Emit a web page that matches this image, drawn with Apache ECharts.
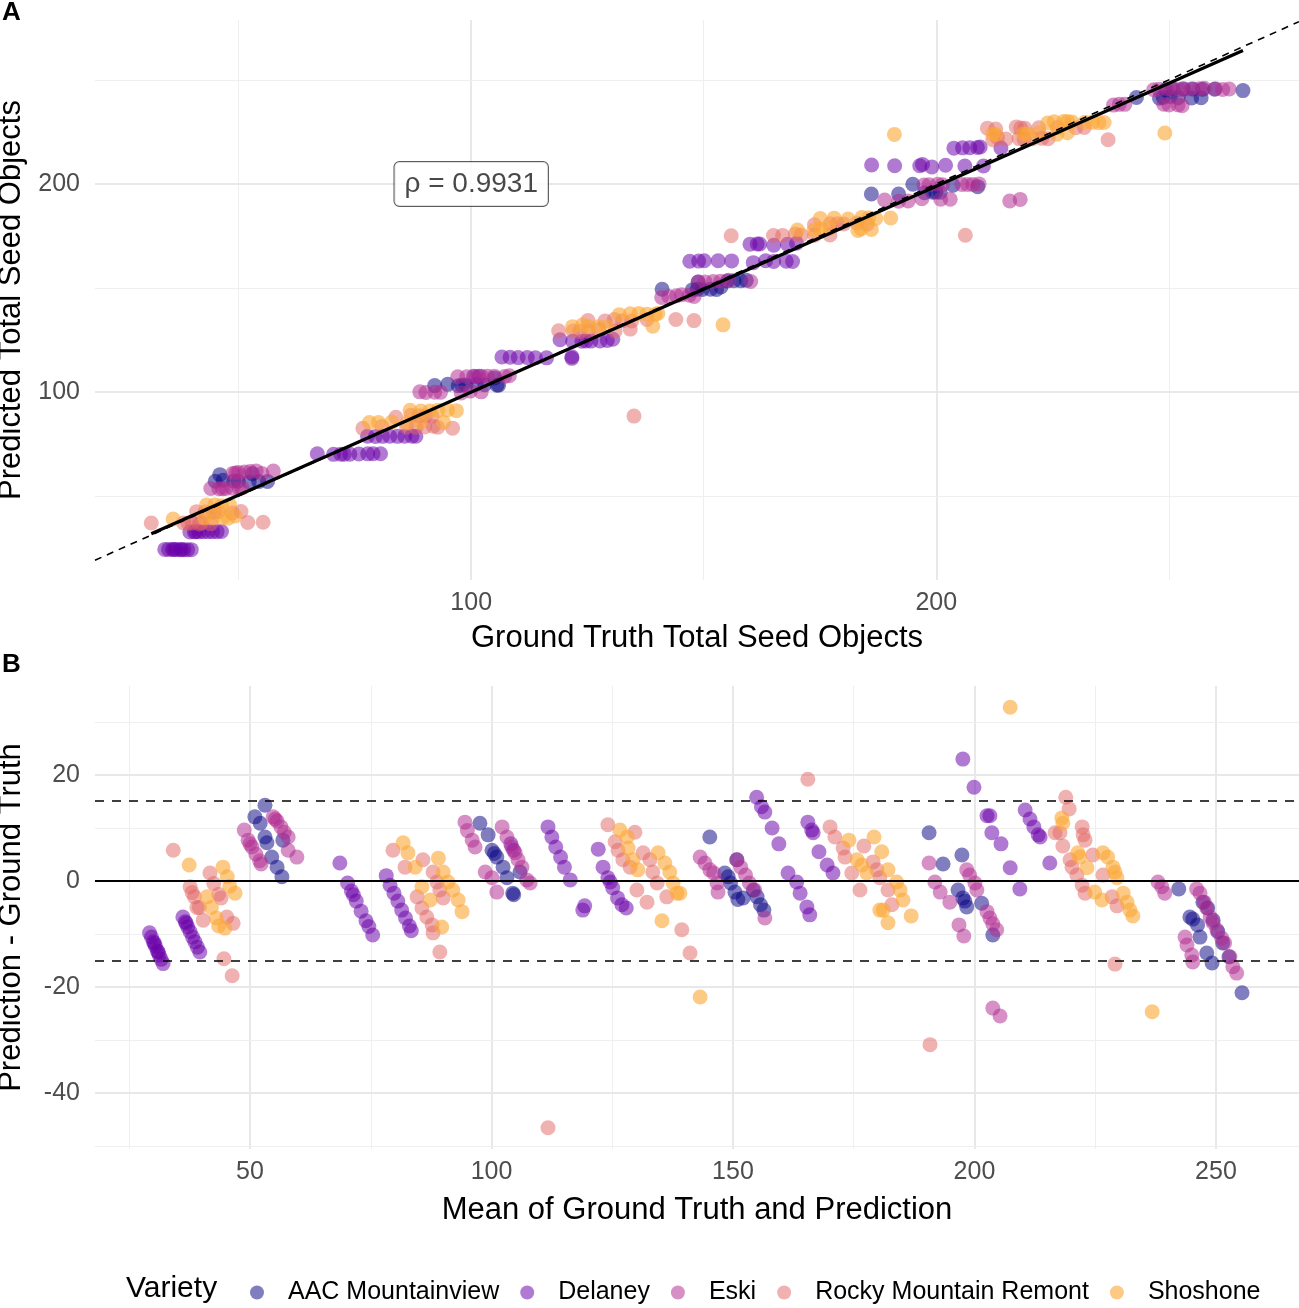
<!DOCTYPE html>
<html>
<head>
<meta charset="utf-8">
<script src="https://cdn.jsdelivr.net/npm/echarts@6/dist/echarts.min.js"></script>
<style>
html,body{margin:0;padding:0;background:#ffffff;}
#chart{width:1299px;height:1308px;}
</style>
</head>
<body>
<div id="chart"></div>
<script>
// ---------------- DATA ----------------
const varieties = ['AAC Mountainview', 'Delaney', 'Eski', 'Rocky Mountain Remont', 'Shoshone'];

// Readings from panel B: [mean of ground truth & prediction, prediction - ground truth]
const aacMountainview = [
  [51.0,12.1],[52.1,10.9],[53.1,14.3],[53.1,8.3],[53.5,7.2],[54.5,4.5],[55.6,2.6],[56.6,0.8],[56.8,7.7],
  [97.6,10.9],[99.3,8.7],[100.1,5.8],[100.6,5.2],[101.1,4.5],[102.4,2.6],[103.2,0.6],[104.4,-2.3],[104.6,-2.6],[105.9,1.7],
  [145.2,8.3],[148.3,1.5],[149.0,0.8],[149.5,-0.4],[150.4,-2.1],[151.0,-3.5],[152.1,-3.2],[150.8,4.0],[154.2,-1.7],[155.0,-3.0],[155.7,-4.5],[156.4,-5.5],
  [190.6,9.1],[193.5,3.2],[197.4,4.9],[196.6,-1.7],[197.6,-3.2],[198.0,-3.8],[198.4,-4.9],[201.5,-4.2],[203.8,-10.2],
  [242.3,-1.5],[244.6,-6.8],[245.2,-7.2],[246.2,-8.3],[246.7,-10.6],[247.3,-4.0],[248.1,-13.6],[248.3,-5.1],[249.2,-15.5],[249.4,-7.4],[250.4,-9.6],[251.4,-11.7],[252.7,-14.3],[255.4,-21.1]
];
const delaney = [
  [29.2,-9.8],[29.6,-10.6],[30.0,-11.5],[30.2,-11.8],[30.4,-12.3],[30.8,-13.2],[31.0,-13.4],[31.2,-14.0],[31.6,-14.8],[32.0,-15.6],
  [36.1,-6.8],[36.6,-7.7],[36.8,-8.0],[37.1,-8.7],[37.6,-9.6],[38.1,-10.6],[38.6,-11.5],[39.1,-12.5],[39.6,-13.4],
  [68.6,3.4],[70.2,-0.4],[71.0,-1.9],[71.4,-2.6],[72.0,-3.8],[73.0,-5.7],[74.0,-7.5],[74.6,-8.6],[75.4,-10.2],
  [78.2,1.0],[79.0,-0.8],[79.8,-2.3],[80.6,-3.8],[81.4,-5.5],[82.2,-7.0],[83.0,-8.5],[83.4,-9.4],
  [104.0,7.0],[104.6,5.8],
  [111.7,10.2],[112.5,8.3],[113.3,6.4],[114.3,4.5],[115.1,2.6],[116.3,0.2],[118.9,-5.5],[119.3,-4.7],
  [122.1,6.0],[123.1,2.6],[124.1,0.6],[124.6,-0.2],[125.1,-1.3],[126.1,-3.2],[127.0,-4.5],[127.9,-5.1],
  [154.9,15.8],[155.9,14.0],[156.6,13.0],[158.1,10.0],[159.5,7.0],
  [161.4,1.5],[163.2,-0.2],[163.9,-2.3],[165.3,-4.9],[165.9,-6.4],
  [165.5,11.1],[166.3,9.6],[166.6,9.1],[167.8,5.5],[169.5,3.0],[170.7,1.5],
  [197.6,23.0],[199.9,17.7],[202.6,12.3],[203.2,12.3],[203.6,9.1],[205.5,7.0],[207.4,2.5],[209.4,-1.5],
  [210.5,13.4],[211.5,11.7],[212.3,10.2],[213.2,8.7],[213.6,8.3],[215.6,3.4]
];
const eski = [
  [48.8,9.6],[49.6,7.7],[50.0,7.0],[50.4,6.4],[51.2,5.1],[52.0,3.8],[52.3,3.2],[54.8,12.1],[55.2,11.7],[55.6,11.3],[56.4,10.2],[57.1,9.2],[57.9,8.3],[57.9,5.8],[59.7,4.5],
  [94.5,11.1],[95.0,9.5],[96.0,7.7],[96.6,6.4],[98.7,1.7],[100.1,0.6],[101.1,-2.1],[102.2,10.2],[103.2,8.3],[104.2,6.4],[104.9,5.3],[105.5,4.0],[106.3,2.6],[107.3,0.2],[108.0,-0.4],
  [143.2,4.5],[144.2,3.4],[145.2,2.1],[146.0,1.5],[146.7,-0.4],[146.9,-2.1],
  [150.8,4.0],[151.6,2.6],[152.6,1.1],[153.4,-0.4],[154.5,-1.7],[156.6,-7.0],
  [190.6,3.4],[191.8,-0.2],[192.9,-2.1],[194.9,-4.0],[196.8,-8.3],[197.8,-10.4],[198.4,2.1],[199.0,1.1],[200.1,-0.4],[200.5,-1.7],
  [202.6,-5.8],[203.2,-7.0],[203.8,-8.1],[204.6,-9.2],[203.8,-24.0],[205.3,-25.5],
  [238.0,-0.2],[238.8,-1.1],[239.4,-2.3],[243.6,-10.6],[244.0,-12.1],[245.0,-14.0],[245.2,-15.3],
  [246.0,-1.5],[246.7,-2.3],[247.6,-4.0],[248.1,-5.1],[248.8,-6.8],[249.4,-7.9],[250.2,-9.2],[251.2,-10.8],[251.8,-11.7],[252.9,-14.3],[253.5,-16.2],[254.3,-17.4]
];
const rockyMountainRemont = [
  [34.1,5.8],[37.6,-1.1],[38.0,-2.2],[38.5,-3.0],[39.0,-5.0],[39.5,-5.0],[40.3,-7.4],[41.7,1.5],[42.5,-0.5],[43.5,-2.5],[44.0,-3.2],[45.2,-6.8],[46.5,-8.0],[44.6,-14.7],[46.3,-17.9],
  [79.6,5.8],[82.1,2.6],[85.8,4.0],[87.9,1.7],[88.7,-0.2],[89.3,-1.7],[90.0,-3.2],[84.6,-3.0],[85.6,-5.1],[86.6,-6.8],[87.7,-8.3],[87.9,-9.8],[89.3,-13.4],
  [111.7,-46.6],
  [124.1,10.6],[129.7,9.2],[125.6,7.4],[126.2,5.8],[127.2,4.0],[128.7,2.6],[131.4,5.3],[132.8,4.0],[133.4,1.7],[134.3,-0.4],[130.1,-1.7],[132.2,-4.0],[136.3,-3.0],[139.4,-9.2],[141.1,-13.6],
  [165.5,19.2],[170.1,10.2],[171.1,8.3],[172.8,6.2],[173.2,4.5],[174.6,1.5],[176.3,-1.7],[177.1,6.6],[179.0,3.6],[179.8,2.1],[180.4,0.6],[182.1,-1.7],[182.9,-4.5],
  [190.8,-30.9],
  [218.9,15.8],[219.6,13.6],[216.7,9.1],[217.7,9.1],[218.3,6.6],[222.3,10.2],[222.5,8.7],[222.9,7.7],[219.8,4.0],[220.2,2.6],[221.2,1.1],[222.3,-0.8],[222.9,-2.3],[224.5,4.9],[226.6,1.1],[228.5,-3.0],[229.5,-4.7],[229.1,-15.7]
];
const shoshone = [
  [37.4,3.0],[41.1,-3.0],[42.0,-5.0],[43.0,-7.0],[43.5,-8.5],[44.4,2.6],[44.8,-8.9],[45.3,0.8],[45.8,-1.0],[46.9,-2.3],
  [81.7,7.2],[82.7,5.3],[84.2,2.6],[85.6,-1.1],[87.3,-3.6],[89.0,4.3],[89.7,-8.7],[90.0,1.7],[91.0,-0.2],[92.0,-1.7],[93.1,-3.6],[93.9,-5.8],
  [126.6,9.6],[128.1,8.3],[128.3,6.2],[129.3,4.0],[130.3,2.1],[134.5,5.3],[135.9,3.4],[136.9,1.7],[137.6,-0.4],[138.4,-2.3],[139.0,-2.3],[135.3,-7.5],[143.2,-21.9],
  [174.0,7.7],[175.7,4.0],[176.7,3.0],[177.7,1.5],[179.2,8.3],[180.8,5.5],[182.1,2.1],[183.9,-0.2],[184.6,-1.7],[185.2,-3.6],[180.4,-5.5],[181.1,-5.5],[182.1,-7.9],[186.9,-6.6],
  [207.4,32.8],
  [218.1,11.9],[218.3,10.9],[221.4,5.3],[221.8,4.5],[223.3,2.5],[226.6,5.3],[227.6,4.5],[228.7,2.6],[229.1,1.7],[229.5,0.6],[224.9,-2.1],[226.4,-3.6],[230.8,-2.3],[231.6,-4.0],[232.2,-5.5],[232.8,-6.6],
  [236.8,-24.7]
];

const blandAltmanSets = [aacMountainview, delaney, eski, rockyMountainRemont, shoshone];

// Tick values
const aXLabels = [100, 200];
const aXMinor = [50, 150, 250];
const aYLabels = [100, 200];
const aYMinor = [50, 150, 250];
const bXLabels = [50, 100, 150, 200, 250];
const bXMinor = [25, 75, 125, 175, 225];
const bYLabels = [-40, -20, 0, 20];
const bYMinor = [-50, -30, -10, 10, 30];

// Reference lines of panel B
const meanBias = 0;
const limitsOfAgreement = [15.2, -15.1];

// Annotation
const rhoText = 'ρ = 0.9931';
const rhoAt = [100, 200];

// ---------------- STYLE / LAYOUT ----------------
const colors = [
  'rgba(13,8,135,0.65)',
  'rgba(106,0,168,0.65)',
  'rgba(177,42,144,0.65)',
  'rgba(225,100,98,0.62)',
  'rgba(252,166,54,0.75)'
];
const FONT = "'Liberation Sans', Arial, Helvetica, sans-serif";
const aXRange = [19.1, 278.0];
const aYRange = [9.6, 278.8];
const bXRange = [17.9, 267.2];
const bYRange = [-50.6, 36.8];

// Panel A coordinates derived from the same observations
const panelASets = blandAltmanSets.map(s => s.map(([m, d]) => [m - d / 2, m + d / 2]));

// linear fit (geom_smooth lm)
const allA = [].concat(...panelASets);
let sx = 0, sy = 0, sxx = 0, sxy = 0;
allA.forEach(([x, y]) => { sx += x; sy += y; sxx += x * x; sxy += x * y; });
const n = allA.length;
const slope = (n * sxy - sx * sy) / (n * sxx - sx * sx);
const intercept = (sy - slope * sx) / n;
const gtMin = Math.min(...allA.map(p => p[0]));
const gtMax = Math.max(...allA.map(p => p[0]));

function gridLines(major, minor, axis) {
  const d = [];
  minor.forEach(v => d.push({ [axis]: v, lineStyle: { color: '#EFEFEF', width: 1.1, type: 'solid' } }));
  major.forEach(v => d.push({ [axis]: v, lineStyle: { color: '#E8E8E8', width: 2, type: 'solid' } }));
  return d;
}

const series = [];
// gridlines
series.push({
  type: 'line', xAxisIndex: 0, yAxisIndex: 0, data: [], silent: true,
  markLine: { z: 1, silent: true, symbol: 'none', animation: false, label: { show: false },
    data: gridLines(aXLabels, aXMinor, 'xAxis').concat(gridLines(aYLabels, aYMinor, 'yAxis')) }
});
series.push({
  type: 'line', xAxisIndex: 1, yAxisIndex: 1, data: [], silent: true,
  markLine: { z: 1, silent: true, symbol: 'none', animation: false, label: { show: false },
    data: gridLines(bXLabels, bXMinor, 'xAxis').concat(gridLines(bYLabels, bYMinor, 'yAxis')) }
});

varieties.forEach((name, i) => {
  series.push({
    name, type: 'scatter', xAxisIndex: 0, yAxisIndex: 0, z: 2,
    symbolSize: 15, data: panelASets[i], itemStyle: { color: colors[i], borderWidth: 0 }
  });
  series.push({
    name, type: 'scatter', xAxisIndex: 1, yAxisIndex: 1, z: 2,
    symbolSize: 15, data: blandAltmanSets[i], itemStyle: { color: colors[i], borderWidth: 0 }
  });
});

// identity line
series.push({
  type: 'line', xAxisIndex: 0, yAxisIndex: 0, z: 4, silent: true, symbol: 'none',
  data: [[aXRange[0], aXRange[0]], [aXRange[1], aXRange[1]]],
  lineStyle: { color: '#000', width: 1.6, type: [7, 6] }
});
// regression line
series.push({
  type: 'line', xAxisIndex: 0, yAxisIndex: 0, z: 5, silent: true, symbol: 'none',
  data: [[gtMin, intercept + slope * gtMin], [gtMax, intercept + slope * gtMax]],
  lineStyle: { color: '#000', width: 3.2 }
});
// rho annotation
series.push({
  type: 'scatter', xAxisIndex: 0, yAxisIndex: 0, z: 6, silent: true, symbolSize: 0,
  data: [rhoAt],
  label: {
    show: true, position: 'inside', formatter: rhoText,
    fontFamily: FONT, fontSize: 28, color: '#1a1a1a',
    backgroundColor: '#fff', borderColor: '#333', borderWidth: 1, borderRadius: 5,
    padding: [8, 10, 8, 10]
  }
});
// Bland-Altman reference lines
series.push({
  type: 'line', xAxisIndex: 1, yAxisIndex: 1, data: [], silent: true,
  markLine: { z: 5, silent: true, symbol: 'none', animation: false, label: { show: false },
    data: [
      { yAxis: meanBias, lineStyle: { color: '#000', width: 2.2, type: 'solid' } },
      { yAxis: limitsOfAgreement[0], lineStyle: { color: '#000', width: 1.6, type: [9, 8] } },
      { yAxis: limitsOfAgreement[1], lineStyle: { color: '#000', width: 1.6, type: [9, 8] } }
    ] }
});

const axisLabelStyle = { fontFamily: FONT, fontSize: 25, color: '#4D4D4D' };
const nameStyle = { fontFamily: FONT, fontSize: 31, color: '#000' };

const option = {
  animation: false,
  backgroundColor: '#fff',
  textStyle: { fontFamily: FONT },
  grid: [
    { left: 95, top: 20, width: 1204, height: 560, containLabel: false, outerBoundsMode: 'none' },
    { left: 95, top: 686, width: 1204, height: 463, containLabel: false, outerBoundsMode: 'none' }
  ],
  xAxis: [
    { gridIndex: 0, type: 'value', min: aXRange[0], max: aXRange[1],
      axisLine: { show: false }, axisTick: { show: false }, splitLine: { show: false },
      axisLabel: Object.assign({ customValues: aXLabels, margin: 11 }, axisLabelStyle),
      name: 'Ground Truth Total Seed Objects', nameLocation: 'middle', nameGap: 43, nameTextStyle: nameStyle },
    { gridIndex: 1, type: 'value', min: bXRange[0], max: bXRange[1],
      axisLine: { show: false }, axisTick: { show: false }, splitLine: { show: false },
      axisLabel: Object.assign({ customValues: bXLabels, margin: 11 }, axisLabelStyle),
      name: 'Mean of Ground Truth and Prediction', nameLocation: 'middle', nameGap: 46, nameTextStyle: nameStyle }
  ],
  yAxis: [
    { gridIndex: 0, type: 'value', min: aYRange[0], max: aYRange[1],
      axisLine: { show: false }, axisTick: { show: false }, splitLine: { show: false },
      axisLabel: Object.assign({ customValues: aYLabels, margin: 15 }, axisLabelStyle),
      name: 'Predicted Total Seed Objects', nameLocation: 'middle', nameGap: 68, nameTextStyle: nameStyle },
    { gridIndex: 1, type: 'value', min: bYRange[0], max: bYRange[1],
      axisLine: { show: false }, axisTick: { show: false }, splitLine: { show: false },
      axisLabel: Object.assign({ customValues: bYLabels, margin: 15 }, axisLabelStyle),
      name: 'Prediction - Ground Truth', nameLocation: 'middle', nameGap: 68, nameTextStyle: nameStyle }
  ],
  legend: {
    data: varieties, icon: 'circle', orient: 'horizontal',
    left: 245, top: 1275, itemWidth: 14, itemHeight: 14, itemGap: 21,
    textStyle: { fontFamily: FONT, fontSize: 25, color: '#000', padding: [0, 0, 0, 19] },
    selectedMode: false
  },
  graphic: [
    { type: 'text', left: 2, top: 0, style: { text: 'A', font: 'bold 26px ' + FONT, fill: '#000' } },
    { type: 'text', left: 2, top: 652, style: { text: 'B', font: 'bold 26px ' + FONT, fill: '#000' } },
    { type: 'text', left: 126, top: 1274, style: { text: 'Variety', font: '30px ' + FONT, fill: '#000' } }
  ],
  series
};

const chart = echarts.init(document.getElementById('chart'), null, { renderer: 'canvas' });
chart.setOption(option);
</script>
</body>
</html>
